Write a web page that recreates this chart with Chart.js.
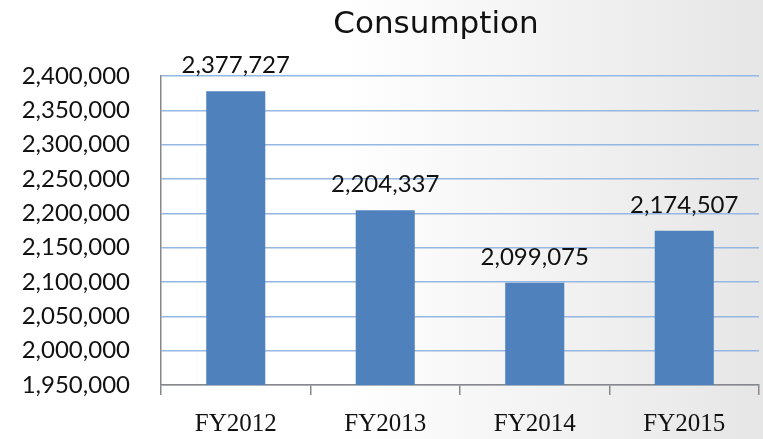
<!DOCTYPE html>
<html>
<head>
<meta charset="utf-8">
<script src="https://cdn.jsdelivr.net/npm/chart.js@4.4.1/dist/chart.umd.min.js"></script>
<style>
	html, body { margin: 0; padding: 0; background: #fff; }
	#wrap { width: 763px; height: 439px; position: relative; }
</style>
</head>
<body>
<div id="wrap"><canvas id="chart"></canvas></div>
<script>
var categories = ["FY2012", "FY2013", "FY2014", "FY2015"];
var consumption = [2377727, 2204337, 2099075, 2174507];
var titleText = "Consumption";
var yMin = 1950000;
var yMax = 2400000;
var yStep = 50000;

function fmt(value) {
	return Number(value).toLocaleString("en-US");
}

// soft white-to-grey backdrop like the slide
var backdrop = {
	id: "backdrop",
	beforeDraw: function (chart) {
		var ctx = chart.ctx;
		var g = ctx.createLinearGradient(0, 0, chart.width, 0);
		g.addColorStop(0, "#ffffff");
		g.addColorStop(0.45, "#ffffff");
		g.addColorStop(1, "#e6e6e6");
		ctx.save();
		ctx.fillStyle = g;
		ctx.fillRect(0, 0, chart.width, chart.height);
		ctx.restore();
	},
};

// title sits a bit right of centre in the original slide
var slideTitle = {
	id: "slideTitle",
	afterDraw: function (chart) {
		var ctx = chart.ctx;
		ctx.save();
		ctx.font = "31px 'DejaVu Sans'";
		ctx.fillStyle = "#111";
		ctx.textAlign = "center";
		ctx.textBaseline = "alphabetic";
		ctx.fillText(titleText, 436, 33);
		ctx.restore();
	},
};

// value labels above each bar
var barLabels = {
	id: "barLabels",
	afterDatasetsDraw: function (chart) {
		var ctx = chart.ctx;
		var meta = chart.getDatasetMeta(0);
		ctx.save();
		ctx.font = "24px Lato";
		ctx.fillStyle = "#111";
		ctx.textAlign = "center";
		ctx.textBaseline = "alphabetic";
		meta.data.forEach(function (bar, i) {
			ctx.fillText(fmt(chart.data.datasets[0].data[i]), bar.x, bar.y - 18);
		});
		ctx.restore();
	},
};

new Chart(document.getElementById("chart"), {
	type: "bar",
	data: {
		labels: categories,
		datasets: [
			{
				label: titleText,
				data: consumption,
				backgroundColor: "#4f81bd",
				borderWidth: 0,
				barPercentage: 0.395,
				categoryPercentage: 1,
			},
		],
	},
	options: {
		responsive: true,
		maintainAspectRatio: false,
		animation: false,
		layout: {
			padding: { left: 0, right: 4, top: 76, bottom: 0 },
		},
		plugins: {
			legend: { display: false },
			tooltip: { enabled: false },
			title: { display: false },
		},
		scales: {
			x: {
				afterFit: function (scale) {
					scale.height = 54;
				},
				grid: {
					display: true,
					drawOnChartArea: false,
					drawTicks: true,
					tickLength: 10,
					offset: true,
					color: "#888",
					lineWidth: 1.5,
				},
				border: { display: true, color: "#888", width: 1.5 },
				ticks: {
					color: "#111",
					padding: 14,
					font: { family: "Liberation Serif", size: 25 },
				},
			},
			y: {
				min: yMin,
				max: yMax,
				afterFit: function (scale) {
					scale.width = 161;
				},
				grid: {
					display: true,
					drawTicks: false,
					color: "#95b7e3",
					lineWidth: 1.5,
				},
				border: { display: true, color: "#888", width: 1.5 },
				ticks: {
					stepSize: yStep,
					color: "#111",
					padding: 31,
					font: { family: "Lato", size: 24 },
					callback: function (value) {
						return fmt(value);
					},
				},
			},
		},
	},
	plugins: [backdrop, slideTitle, barLabels],
});
</script>
</body>
</html>
